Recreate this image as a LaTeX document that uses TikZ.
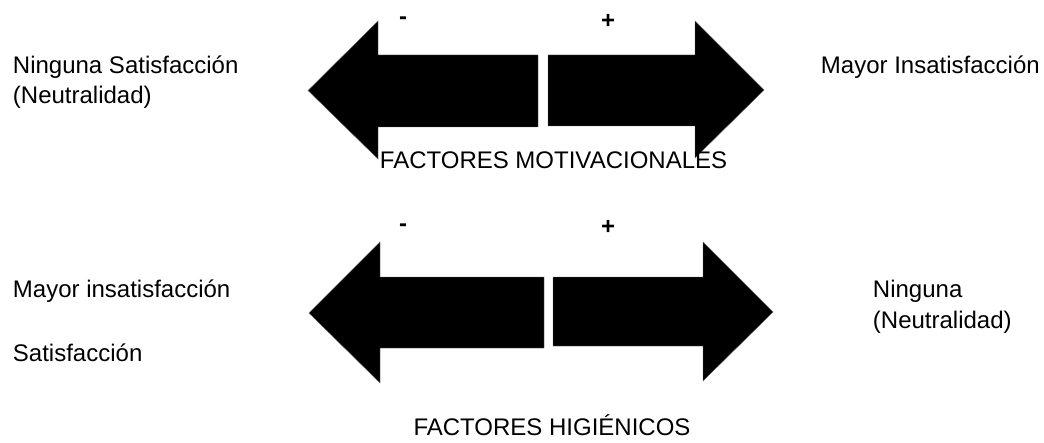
\documentclass[tikz,border=0pt]{standalone}
\usepackage{fontspec}
\setmainfont{Liberation Sans}
\usetikzlibrary{positioning}

\begin{document}
\begin{tikzpicture}[
    x=0.75pt, y=-0.75pt,
    every node/.style={inner sep=0pt, font=\fontsize{18}{21.6}\selectfont},
    txt/.style={anchor=base west},
    title/.style={anchor=base},
    sign/.style={anchor=base, font=\fontsize{18}{21.6}\selectfont\bfseries},
    bigarrow/.style={fill=black, draw=black!60, line width=0.3pt}
]
\useasboundingbox (0,0) rectangle (1044,442);

% flechas de arriba
\fill[bigarrow] (308,90.5) -- (378,21) -- (378,55) -- (538,55) -- (538,127) -- (378,127) -- (378,159) -- cycle;
\fill[bigarrow] (764,90) -- (695,21) -- (695,55) -- (548,55) -- (548,126) -- (695,126) -- (695,158) -- cycle;

% flechas de abajo
\fill[bigarrow] (309,313) -- (380,242) -- (380,277) -- (544,277) -- (544,348) -- (380,348) -- (380,383) -- cycle;
\fill[bigarrow] (773,312) -- (703,242) -- (703,277) -- (553,277) -- (553,346) -- (703,346) -- (703,381) -- cycle;

% signos
\node[sign] (menos1) at (403,25) {-};
\node[sign] (mas1) at (608,29) {+};
\node[sign] (menos2) at (403,231) {-};
\node[sign] (mas2) at (608,234.5) {+};

% textos de arriba
\node[txt] (ninguna1) at (12.7,73.3) {Ninguna Satisfacción};
\node[txt] (neutral1) at (12.7,103.3) {(Neutralidad)};
\node[txt] (mayor1) at (820.7,73.3) {Mayor Insatisfacción};
\node[title] (motiv) at (553.5,168) {FACTORES MOTIVACIONALES};

% textos de abajo
\node[txt] (mayor2) at (12.7,297) {Mayor insatisfacción};
\node[txt] (satisf) at (12.7,361) {Satisfacción};
\node[txt] (ninguna2) at (872.7,297) {Ninguna};
\node[txt] (neutral2) at (872.7,328.3) {(Neutralidad)};
\node[title] (higien) at (552,435) {FACTORES HIGIÉNICOS};

\end{tikzpicture}
\end{document}
